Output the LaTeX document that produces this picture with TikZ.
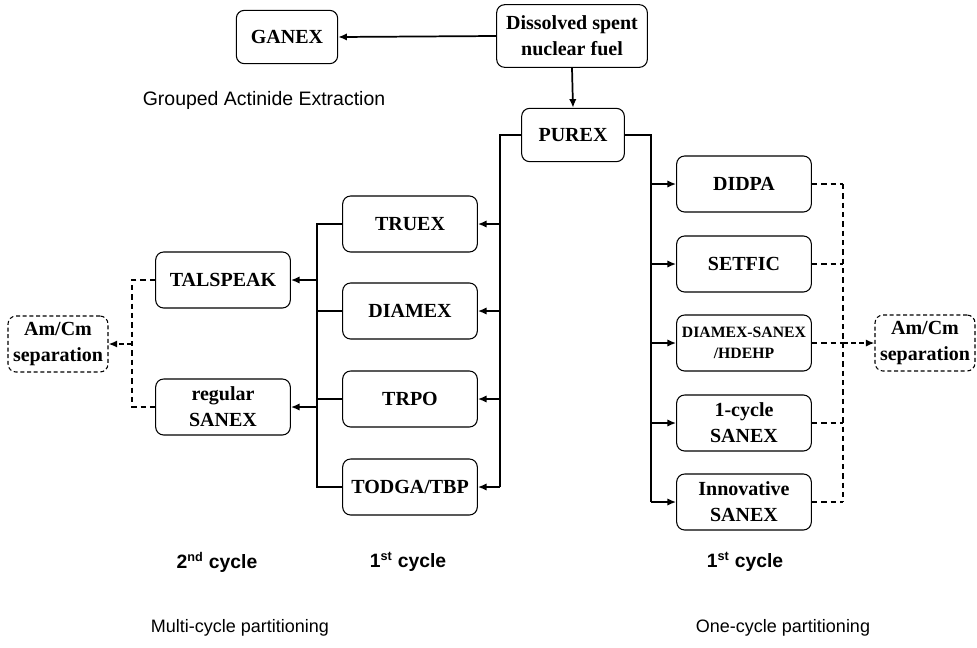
\documentclass[tikz,border=0pt]{standalone}
\usepackage{fontspec}
\setmainfont{Liberation Serif}
\setsansfont{Liberation Sans}
\usetikzlibrary{arrows.meta}

\newcommand{\supx}[1]{\textsuperscript{\fontsize{9.5}{10}\selectfont #1}}

\tikzset{
	proc/.style={draw, rounded corners=6pt, line width=0.8pt, align=center,
		font=\fontsize{15}{19.5}\selectfont\bfseries,
		minimum width=101pt, minimum height=42pt, inner sep=1pt},
	sepbox/.style={proc, dash pattern=on 3pt off 2pt, minimum width=75pt},
	link/.style={line width=1.3pt},
	arr/.style={link, -{Latex[length=6.5pt,width=5.5pt]}},
	dlink/.style={line width=0.8pt, dash pattern=on 4pt off 3pt},
	darr/.style={line width=1.3pt, dash pattern=on 4pt off 2pt, -{Latex[length=6.5pt,width=5.5pt]}},
	cyc/.style={font=\sffamily\bfseries\fontsize{14.5}{17}\selectfont},
	note/.style={font=\sffamily\fontsize{13.5}{16}\selectfont},
}

\begin{document}
	\begin{tikzpicture}[x=0.75pt,y=-0.75pt]
		\useasboundingbox (0,0) rectangle (977,647);
		% feed and first split
		\node[proc, minimum width=113pt, minimum height=47pt] (fuel) at (572,36) {Dissolved spent\\nuclear fuel};
		\node[proc, minimum width=76pt, minimum height=40pt] (ganex) at (287,37) {GANEX};
		\node[note, font=\sffamily\fontsize{14.6}{17}\selectfont] (gae) at (264,100) {Grouped Actinide Extraction};
		\node[proc, minimum width=77pt, minimum height=40pt] (purex) at (573,135) {PUREX};
		\draw[arr] (fuel.west) -- (ganex.east);
		\draw[arr] (fuel.south) -- (purex.north);
		% multi-cycle branch
		\begin{scope}
			\node[proc] (truex) at (410,224) {TRUEX};
			\node[proc] (diamex) at (410,311) {DIAMEX};
			\node[proc] (trpo) at (410,399) {TRPO};
			\node[proc] (todga) at (410,487) {TODGA/TBP};
			\node[proc] (talspeak) at (223,280) {TALSPEAK};
			\node[proc] (rsanex) at (223,407) {regular\\SANEX};
			\node[sepbox] (amcmL) at (58,344) {Am/Cm\\separation};
			\coordinate (ltrunk) at (500,135);
			\coordinate (lb) at (317,0);
			\coordinate (ldash) at (132,0);
			\draw[link] (purex.west) -- (ltrunk) -- (ltrunk |- todga.east);
			\foreach \n in {truex,diamex,trpo,todga}
				\draw[arr] (ltrunk |- \n.east) -- (\n.east);
			\draw[link] (truex.west) -| (lb |- todga.west) -- (todga.west);
			\draw[link] (diamex.west) -- (diamex.west -| lb);
			\draw[link] (trpo.west) -- (trpo.west -| lb);
			\draw[arr] (talspeak.east -| lb) -- (talspeak.east);
			\draw[arr] (rsanex.east -| lb) -- (rsanex.east);
			\draw[dlink] (talspeak.west) -| (ldash |- rsanex.west) -- (rsanex.west);
			\draw[darr] (ldash |- amcmL.east) -- (amcmL.east);
		\end{scope}
		% one-cycle branch
		\begin{scope}
			\node[proc] (didpa) at (744,184) {DIDPA};
			\node[proc] (setfic) at (744,264) {SETFIC};
			\node[proc, font=\fontsize{11.8}{16}\selectfont\bfseries] (dsh) at (744,343) {DIAMEX-SANEX\\/HDEHP};
			\node[proc] (osanex) at (744,423) {1-cycle\\SANEX};
			\node[proc] (isanex) at (744,502) {Innovative\\SANEX};
			\node[sepbox] (amcmR) at (925,343) {Am/Cm\\separation};
			\coordinate (rtrunk) at (651,135);
			\coordinate (rdash) at (843,0);
			\draw[link] (purex.east) -- (rtrunk) -- (rtrunk |- isanex.west);
			\foreach \n in {didpa,setfic,dsh,osanex,isanex}
			{
				\draw[arr] (rtrunk |- \n.west) -- (\n.west);
				\draw[dlink] (\n.east) -- (\n.east -| rdash);
			}
			\draw[dlink] (rdash |- didpa.east) -- (rdash |- isanex.east);
			\draw[darr] (rdash |- amcmR.west) -- (amcmR.west);
		\end{scope}
		% captions
		\node[cyc] (c2) at (217,562) {2\supx{nd} cycle};
		\node[cyc] (c1l) at (408,562) {1\supx{st} cycle};
		\node[cyc] (c1r) at (745,562) {1\supx{st} cycle};
		\node[note] (multi) at (240,628) {Multi-cycle partitioning};
		\node[note] (one) at (783,628) {One-cycle partitioning};
	\end{tikzpicture}
\end{document}
